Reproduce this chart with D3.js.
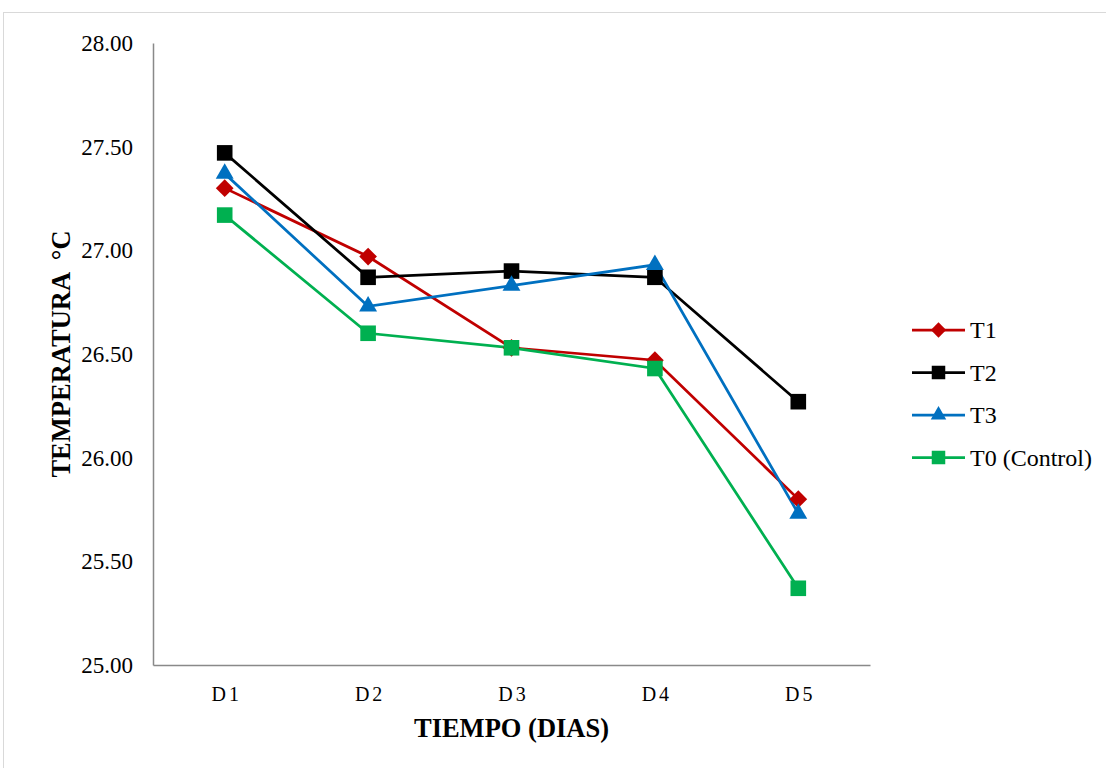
<!DOCTYPE html>
<html>
<head>
<meta charset="utf-8">
<script src="https://cdn.jsdelivr.net/npm/d3@7"></script>
<style>
  body { margin: 0; background: #fff; }
  svg text { font-family: "Liberation Serif", "Times New Roman", Times, "DejaVu Serif", serif !important; }
</style>
</head>
<body>
<div id="container"></div>
<script>
// chart data
let days = ["D1", "D2", "D3", "D4", "D5"];
let t1 = [27.30, 26.97, 26.53, 26.47, 25.80];
let t2 = [27.47, 26.87, 26.90, 26.87, 26.27];
let t3 = [27.37, 26.73, 26.83, 26.93, 25.73];
let t0 = [27.17, 26.60, 26.53, 26.43, 25.37];
let seriesNames = ["T1", "T2", "T3", "T0 (Control)"];
let yTicks = [25.00, 25.50, 26.00, 26.50, 27.00, 27.50, 28.00];

let w = 1106;
let h = 768;
let FONT = '"Liberation Serif", "Times New Roman", Times, serif';

let series = [
  { name: seriesNames[0], values: t1, color: "#C00000", symbol: d3.symbolDiamond2, size: 200 },
  { name: seriesNames[1], values: t2, color: "#000000", symbol: d3.symbolSquare2, size: 310 },
  { name: seriesNames[2], values: t3, color: "#0070C0", symbol: d3.symbolTriangle2, size: 230 },
  { name: seriesNames[3], values: t0, color: "#00B050", symbol: d3.symbolSquare2, size: 310 }
];

let viz = d3.select('#container')
  .append('svg')
  .attr('width', w)
  .attr('height', h)
  .attr('font-family', FONT);

// outer frame of the chart
viz.append('rect')
  .attr('x', 3.5).attr('y', 12.5)
  .attr('width', w + 10).attr('height', h + 10)
  .attr('fill', 'none')
  .attr('stroke', '#d9d9d9')
  .attr('stroke-width', 1);

let padLeft = 153, padRight = 870, padTop = 43, padBottom = 665;

let xScale = d3.scaleBand().domain(days).range([padLeft, padRight]);
let yScale = d3.scaleLinear().domain([25, 28]).range([padBottom, padTop]);

// axes
let yAxis = d3.axisLeft(yScale).tickValues(yTicks).tickFormat(d3.format(".2f")).tickSize(0).tickPadding(20);
let yAxisGroup = viz.append('g').attr('transform', `translate(${padLeft},0)`).call(yAxis);
yAxisGroup.attr('font-family', FONT).attr('font-size', 23);
yAxisGroup.select('.domain').attr('stroke', '#898989').attr('stroke-width', 1.5);
yAxisGroup.selectAll('text').attr('fill', '#000');

let xAxis = d3.axisBottom(xScale).tickSize(0).tickPadding(22);
let xAxisGroup = viz.append('g').attr('transform', `translate(0,${padBottom})`).call(xAxis);
xAxisGroup.attr('font-family', FONT).attr('font-size', 20);
xAxisGroup.selectAll('text').attr('fill', '#000').attr('letter-spacing', 3).attr('dx', 2);
xAxisGroup.select('.domain').attr('stroke', '#898989').attr('stroke-width', 1.5);

// axis titles
viz.append('text')
  .attr('transform', `translate(70,354) rotate(-90)`)
  .attr('text-anchor', 'middle')
  .attr('font-size', 26.5).attr('font-weight', 'bold')
  .style('white-space', 'pre')
  .text('TEMPERATURA  °C');

viz.append('text')
  .attr('x', (padLeft + padRight) / 2).attr('y', 737)
  .attr('text-anchor', 'middle')
  .attr('font-size', 26.5).attr('font-weight', 'bold')
  .text('TIEMPO (DIAS)');

// lines and markers
let cx = d => xScale(d) + xScale.bandwidth() / 2;
let line = d3.line().x((d, i) => cx(days[i])).y(d => yScale(d));

let graphGroup = viz.append('g');
series.forEach(s => {
  graphGroup.append('path')
    .attr('d', line(s.values))
    .attr('fill', 'none')
    .attr('stroke', s.color)
    .attr('stroke-width', 2.75);
});
series.forEach(s => {
  graphGroup.selectAll(null)
    .data(s.values)
    .enter()
    .append('path')
    .attr('d', d3.symbol().type(s.symbol).size(s.size))
    .attr('transform', (d, i) => `translate(${cx(days[i])},${yScale(d)})`)
    .attr('fill', s.color);
});

// legend
let legend = viz.append('g').attr('transform', 'translate(912,330)');
series.forEach((s, i) => {
  let g = legend.append('g').attr('transform', `translate(0,${i * 42.5})`);
  g.append('line').attr('x1', 0).attr('x2', 53).attr('y1', 0).attr('y2', 0)
    .attr('stroke', s.color).attr('stroke-width', 2.75);
  g.append('path')
    .attr('d', d3.symbol().type(s.symbol).size(s.size * 0.75))
    .attr('transform', 'translate(26.5,0)')
    .attr('fill', s.color);
  g.append('text').attr('x', 58).attr('y', 8)
    .attr('font-size', 24)
    .text(s.name);
});
</script>
</body>
</html>
